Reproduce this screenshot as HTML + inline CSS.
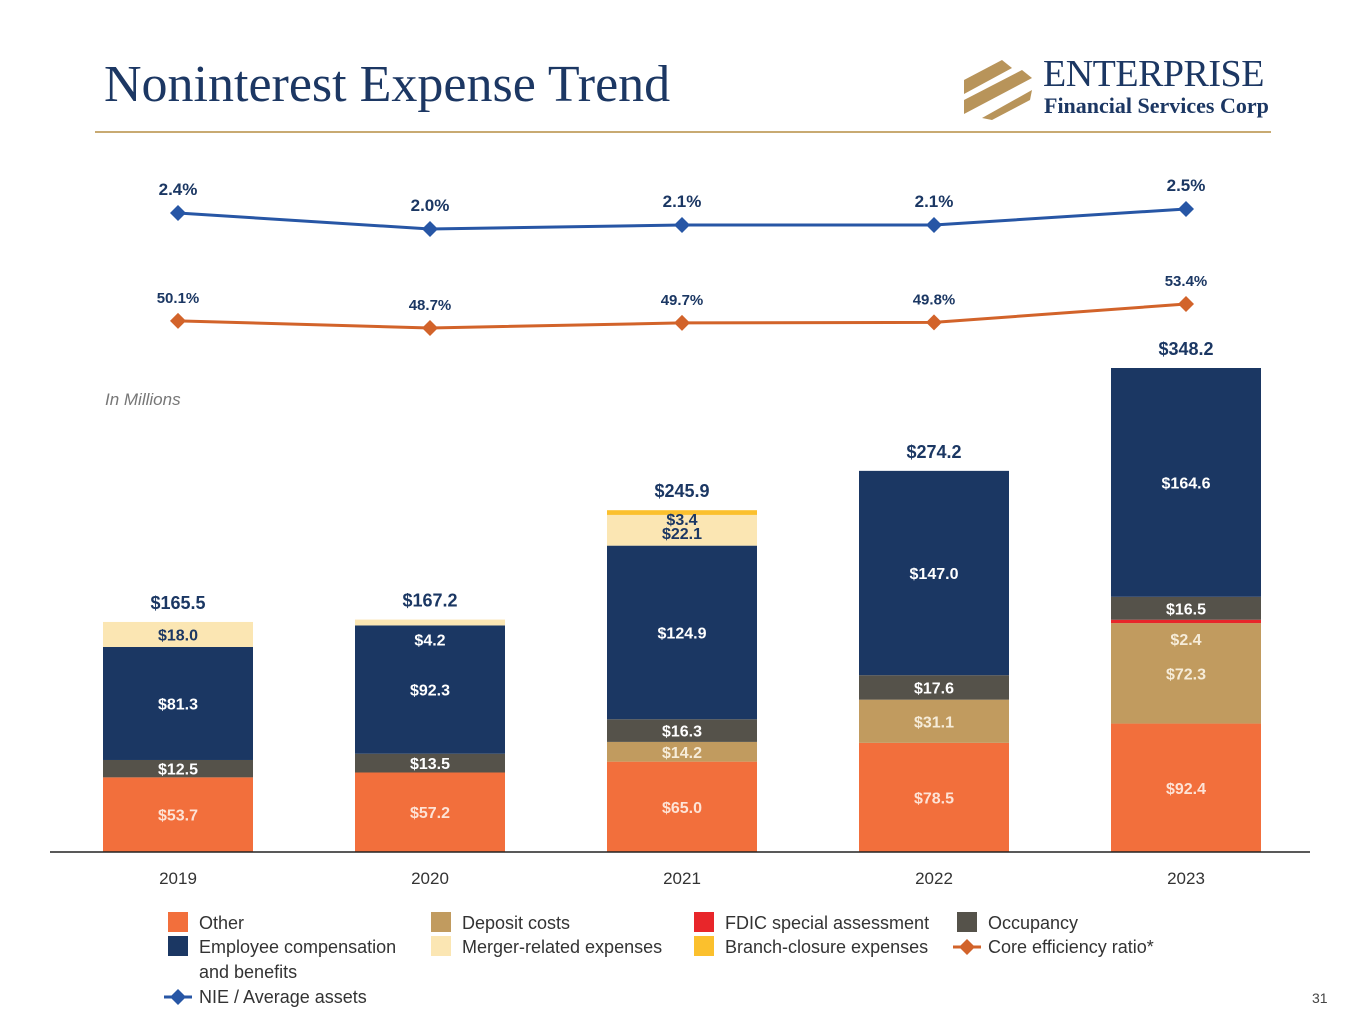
<!DOCTYPE html>
<html><head><meta charset="utf-8"><style>
body{margin:0;background:#fff;font-family:"Liberation Sans",sans-serif;}
#wrap{position:relative;width:1365px;height:1024px;overflow:hidden;}
.t{font-family:"Liberation Serif",serif;}
</style></head><body><div id="wrap">
<div class="t" style="position:absolute;left:104px;top:55px;font-size:52px;color:#1c3763;">Noninterest Expense Trend</div>
<div style="position:absolute;left:95px;top:131px;width:1176px;height:2px;background:#c8aa72;"></div>
<svg style="position:absolute;left:962px;top:58px" width="72" height="62">
<g fill="#b8945a"><polygon points="2,22 40,2 50,10 2,36"/><polygon points="2,42 60,12 70,20 2,56"/><polygon points="20,60 70,32 68,42 30,62"/></g></svg>
<div class="t" style="position:absolute;left:1043px;top:52px;font-size:38px;color:#1c3763;letter-spacing:-0.5px">ENTERPRISE</div>
<div class="t" style="position:absolute;left:1044px;top:93px;font-size:22px;font-weight:bold;color:#1c3763;">Financial Services Corp</div>
<div style="position:absolute;left:105px;top:390px;font-size:17px;font-style:italic;color:#777;">In Millions</div>
<div style="position:absolute;left:1312px;top:990px;font-size:14px;color:#444;">31</div>
<svg id="chart" width="1365" height="1024" style="position:absolute;left:0;top:0"></svg>
<script>
const years=["2019","2020","2021","2022","2023"];
const other=[53.7,57.2,65.0,78.5,92.4];
const deposit=[0,0,14.2,31.1,72.3];
const fdic=[0,0,0,0,2.4];
const occupancy=[12.5,13.5,16.3,17.6,16.5];
const employee=[81.3,92.3,124.9,147.0,164.6];
const merger=[18.0,4.2,22.1,0,0];
const branch=[0,0,3.4,0,0];
const nie=[2.4,2.0,2.1,2.1,2.5];
const ratio=[50.1,48.7,49.7,49.8,53.4];
const NS="http://www.w3.org/2000/svg";
const svg=document.getElementById('chart');
function mk(tag,a,txt){const e=document.createElementNS(NS,tag);for(const k in a)e.setAttribute(k,a[k]);if(txt!==undefined)e.textContent=txt;svg.appendChild(e);return e;}
const x=i=>178+i*252;
const base=852,k=1.39;
const y=v=>base-v*k;
const yN=v=>229-(v-2.0)*40;
const yR=v=>328-(v-48.7)*5.1;
const series=[
 {n:"other",d:other,c:"#f26f3c",tc:"#fde3d6"},
 {n:"deposit",d:deposit,c:"#c19b5f",tc:"#f6ecd9"},
 {n:"fdic",d:fdic,c:"#e8262a",tc:null},
 {n:"occupancy",d:occupancy,c:"#55524a",tc:"#fff"},
 {n:"employee",d:employee,c:"#1b3763",tc:"#fff"},
 {n:"merger",d:merger,c:"#fbe6b3",tc:"#1b3763"},
 {n:"branch",d:branch,c:"#fbc02d",tc:"#1b3763"}];
years.forEach((yr,i)=>{
 let cum=0;
 series.forEach(s=>{
  const v=s.d[i]; if(!v)return;
  const r=mk('rect',{x:x(i)-75,y:y(cum+v),width:150,height:v*k,fill:s.c});
  
  
  let ly=y(cum+v/2)+6;
  if(s.n==="fdic")ly=y(cum)+22;
  if(s.n==="merger"&&v<10)ly=y(cum)+20;
  if(s.n==="branch")ly=y(cum)+10;
  if(s.n==="merger"&&v>20)ly=y(cum+v)+24;
  let col=s.tc||"#f6ecd9";
  if(s.n==="merger"&&v<10)col="#fff";
  const t=mk('text',{x:x(i),y:ly,'text-anchor':'middle','font-size':16,'font-weight':'bold',fill:col},'$'+v.toFixed(1));
  
  
  cum+=v;
 });
 const tot=mk('text',{x:x(i),y:y(cum)-13,'text-anchor':'middle','font-size':18,'font-weight':'bold',fill:'#1b3763'},'$'+cum.toFixed(1));
 
 
 const xl=mk('text',{x:x(i),y:884,'text-anchor':'middle','font-size':17,fill:'#333'},yr);
 
 
});
const ax=mk('line',{x1:50,x2:1310,y1:852,y2:852,stroke:'#222','stroke-width':1.5});


function line(d,f,col,name,fmt,fs){
 const pl=mk('polyline',{points:d.map((v,i)=>x(i)+','+f(v)).join(' '),fill:'none',stroke:col,'stroke-width':3});
 
 
 d.forEach((v,i)=>{
  const cx=x(i),cy=f(v);
  const p=mk('polygon',{points:`${cx},${cy-8} ${cx+8},${cy} ${cx},${cy+8} ${cx-8},${cy}`,fill:col});
  
  
  const t=mk('text',{x:cx,y:cy-18,'text-anchor':'middle','font-size':fs,'font-weight':'bold',fill:'#1b3763'},v.toFixed(1)+'%');
  
  
 });
}
line(nie,yN,'#2756a5','nie',1,17);
line(ratio,yR,'#d2632a','ratio',1,15);
const leg=[["Other","#f26f3c",168,923,0],["Employee compensation","#1b3763",168,947,0],["Deposit costs","#c19b5f",431,923,0],["Merger-related expenses","#fbe6b3",431,947,0],["FDIC special assessment","#e8262a",694,923,0],["Branch-closure expenses","#fbc02d",694,947,0],["Occupancy","#55524a",957,923,0],["Core efficiency ratio*","#d2632a",957,947,1],["NIE / Average assets","#2756a5",168,997,1]];
leg.forEach(l=>{
 const [txt,c,lx,ly,isLine]=l;
 const nm='legend-'+txt.toLowerCase().replace(/[^a-z]+/g,'-').replace(/-$/,'');
 if(isLine){
  const ln=mk('line',{x1:lx-4,x2:lx+24,y1:ly,y2:ly,stroke:c,'stroke-width':3});
  
  
  mk('polygon',{points:`${lx+10},${ly-8} ${lx+18},${ly} ${lx+10},${ly+8} ${lx+2},${ly}`,fill:c});
 } else {
  const r=mk('rect',{x:lx,y:ly-11,width:20,height:20,fill:c});
  
  
 }
 const t=mk('text',{x:lx+31,y:ly+6,'font-size':18,fill:'#333'},txt);
 
 
});
const t2=mk('text',{x:199,y:978,'font-size':18,fill:'#333'},'and benefits');


</script>
</div></body></html>
